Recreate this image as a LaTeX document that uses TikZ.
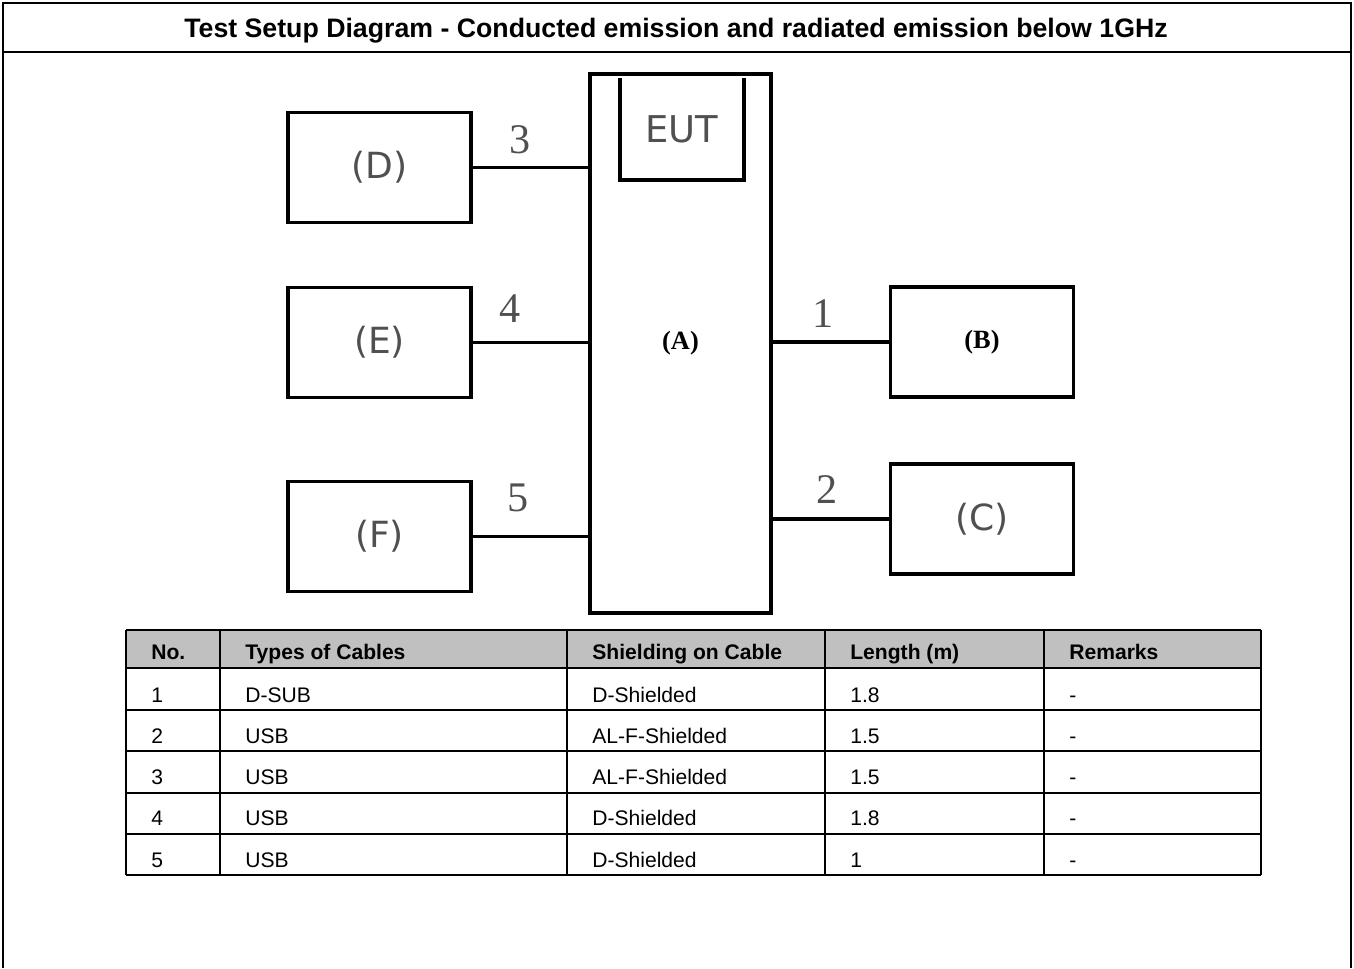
\documentclass[tikz,border=0pt]{standalone}
\usepackage{fontspec}
\setmainfont{Liberation Sans}
\newfontfamily\boxfont{DejaVu Sans}
\newfontfamily\numfont{Liberation Serif}
\usetikzlibrary{positioning}
\definecolor{hdrgray}{RGB}{192,192,192}
\definecolor{inkgray}{RGB}{80,80,80}

\begin{document}
\begin{tikzpicture}[x=0.02cm,y=-0.02cm,line join=miter,
  unit/.style={draw,line width=2.2pt,minimum width=3.66cm,minimum height=2.2cm,inner sep=0pt,
    font=\boxfont\fontsize{20.5}{22}\selectfont,text=inkgray},
  mark label/.style={font=\numfont\bfseries\fontsize{15}{17}\selectfont,text=black},
  cable/.style={line width=2.2pt},
  cablenum/.style={font=\numfont\fontsize{24}{26}\selectfont,text=inkgray,inner sep=0pt},
  grid/.style={line width=1.1pt},
  cell/.style={anchor=base west,inner sep=0pt,font=\fontsize{12}{14}\selectfont},
  headcell/.style={cell,font=\bfseries\fontsize{12}{14}\selectfont}]
  \useasboundingbox (0,0) rectangle (1354,968);
  \draw[line width=1.4pt] (3,968)--(3,3)--(1351,3)--(1351,968);
  \draw[line width=1.4pt] (3,52)--(1351,52);
  \node[font=\bfseries\fontsize{15.2}{18}\selectfont,anchor=base,inner sep=0pt] (title) at (676,37)
    {Test Setup Diagram - Conducted emission and radiated emission below 1GHz};

  \node[unit,minimum width=3.62cm,minimum height=10.78cm,mark label] (A) at (680.5,343.5) {(A)};
  \node[minimum width=2.48cm,minimum height=2.04cm,inner sep=0pt,
    font=\boxfont\fontsize{21}{22}\selectfont,text=inkgray] (eut) at (682,129) {EUT};
  \draw[cable] (eut.north west)--(eut.south west)--(eut.south east)--(eut.north east);

  \node[unit] (D) at (379.5,167.5) {(D)};
  \node[unit] (E) at (379.5,342.5) {(E)};
  \node[unit] (F) at (379.5,536.5) {(F)};
  \node[unit,mark label] (B) at (982,342) {(B)};
  \node[unit] (C) at (982,519) {(C)};

  \draw[cable] (D.east) -- (D.east -| A.west);
  \draw[cable] (E.east) -- (E.east -| A.west);
  \draw[cable] (F.east) -- (F.east -| A.west);
  \draw[cable] (B.west) -- (B.west -| A.east);
  \draw[cable] (C.west) -- (C.west -| A.east);
  \node[cablenum] (n3) at (520,140) {3};
  \node[cablenum] (n4) at (510,309) {4};
  \node[cablenum] (n5) at (518,498) {5};
  \node[cablenum] (n1) at (823,314) {1};
  \node[cablenum] (n2) at (827,490) {2};

  \fill[hdrgray] (126,630) rectangle (1261,668);
  \foreach \y in {630,668,710,751,793,834,875}
    \draw[grid] (126,\y) -- (1261,\y);
  \foreach \x in {126,220,567,825,1044,1261}
    \draw[grid] (\x,630) -- (\x,875);
  \foreach \x/\t [count=\i] in {151/No.,245/Types of Cables,592/Shielding on Cable,850/Length (m),1069/Remarks}
    \node[headcell] (h\i) at (\x,659) {\t};
  \foreach \typ/\shd/\len [count=\i] in {D-SUB/D-Shielded/1.8,USB/AL-F-Shielded/1.5,
      USB/AL-F-Shielded/1.5,USB/D-Shielded/1.8,USB/D-Shielded/1}{
    \pgfmathsetmacro\yb{702+41.25*(\i-1)}
    \node[cell] (r\i-1) at (151,\yb) {\i};
    \node[cell] (r\i-2) at (245,\yb) {\typ};
    \node[cell] (r\i-3) at (592,\yb) {\shd};
    \node[cell] (r\i-4) at (850,\yb) {\len};
    \node[cell] (r\i-5) at (1069,\yb) {-};
  }
\end{tikzpicture}
\end{document}
